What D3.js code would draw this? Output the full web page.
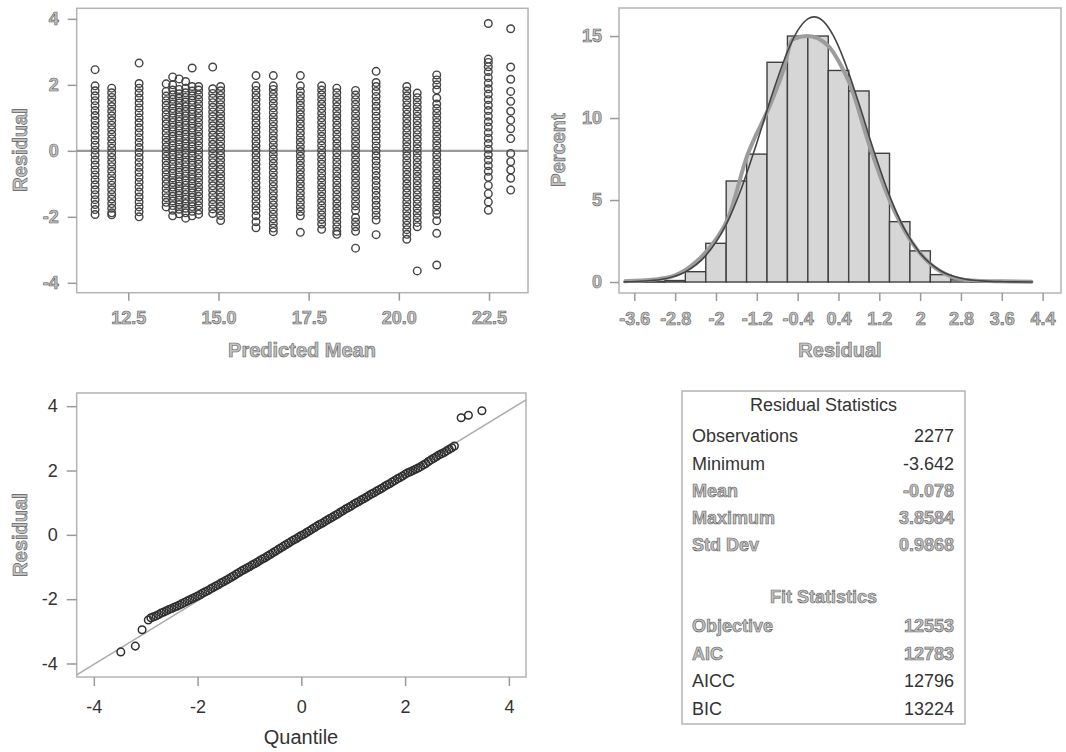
<!DOCTYPE html>
<html>
<head>
<meta charset="utf-8">
<script src="https://cdn.jsdelivr.net/npm/d3@7"></script>
<style>
  body { margin: 0; background: #fff; }
  svg { display: block; font-family: "Liberation Sans", Arial, sans-serif; }
</style>
</head>
<body>
<svg id="chart" width="1066" height="752"></svg>
<script>
// ---- data ----
const scatterMeans = [11.58, 12.04, 12.80, 13.55, 13.73, 13.91, 14.09, 14.27, 14.45, 14.84, 15.06,
  16.04, 16.52, 17.27, 17.86, 18.28, 18.80, 19.37, 20.22, 20.51, 21.05, 22.48, 23.10];

const scatterResiduals = [
  [2.46, 1.97, 1.82, 1.67, 1.52, 1.37, 1.22, 1.07, 0.92, 0.77, 0.62, 0.47, 0.32, 0.17, 0.02, -0.13, -0.28, -0.43, -0.58, -0.73, -0.88, -1.03, -1.18, -1.33, -1.48, -1.63, -1.78, -1.93],
  [1.9, 1.76, 1.62, 1.48, 1.34, 1.2, 1.06, 0.92, 0.78, 0.64, 0.5, 0.36, 0.22, 0.08, -0.06, -0.2, -0.34, -0.48, -0.62, -0.76, -0.9, -1.04, -1.18, -1.32, -1.46, -1.6, -1.74, -1.88, -1.94],
  [2.66, 2.04, 1.9, 1.75, 1.6, 1.45, 1.3, 1.15, 1.0, 0.85, 0.7, 0.55, 0.4, 0.25, 0.1, -0.05, -0.2, -0.35, -0.5, -0.65, -0.8, -0.95, -1.1, -1.25, -1.4, -1.55, -1.7, -1.85, -2.0],
  [2.03, 1.8, 1.66, 1.52, 1.38, 1.24, 1.1, 0.96, 0.82, 0.68, 0.54, 0.4, 0.26, 0.12, -0.02, -0.16, -0.3, -0.44, -0.58, -0.72, -0.86, -1.0, -1.14, -1.28, -1.42, -1.56, -1.7],
  [2.24, 2.0, 1.84, 1.7, 1.56, 1.42, 1.28, 1.14, 1.0, 0.86, 0.72, 0.58, 0.44, 0.3, 0.16, 0.02, -0.12, -0.26, -0.4, -0.54, -0.68, -0.82, -0.96, -1.1, -1.24, -1.38, -1.52, -1.66, -1.8, -1.97],
  [2.18, 1.86, 1.73, 1.59, 1.45, 1.31, 1.17, 1.03, 0.89, 0.75, 0.61, 0.47, 0.33, 0.19, 0.05, -0.09, -0.23, -0.37, -0.51, -0.65, -0.79, -0.93, -1.07, -1.21, -1.35, -1.49, -1.63, -1.77, -1.91],
  [2.1, 1.9, 1.76, 1.62, 1.48, 1.34, 1.2, 1.06, 0.92, 0.78, 0.64, 0.5, 0.36, 0.22, 0.08, -0.06, -0.2, -0.34, -0.48, -0.62, -0.76, -0.9, -1.04, -1.18, -1.32, -1.46, -1.6, -1.74, -1.88, -2.04],
  [2.51, 1.95, 1.81, 1.67, 1.53, 1.39, 1.25, 1.11, 0.97, 0.83, 0.69, 0.55, 0.41, 0.27, 0.13, -0.01, -0.15, -0.29, -0.43, -0.57, -0.71, -0.85, -0.99, -1.13, -1.27, -1.41, -1.55, -1.69, -1.83, -1.97],
  [1.95, 1.84, 1.7, 1.56, 1.42, 1.28, 1.14, 1.0, 0.86, 0.72, 0.58, 0.44, 0.3, 0.16, 0.02, -0.12, -0.26, -0.4, -0.54, -0.68, -0.82, -0.96, -1.1, -1.24, -1.38, -1.52, -1.66, -1.8, -1.92],
  [2.54, 1.88, 1.74, 1.6, 1.46, 1.32, 1.18, 1.04, 0.9, 0.76, 0.62, 0.48, 0.34, 0.2, 0.06, -0.08, -0.22, -0.36, -0.5, -0.64, -0.78, -0.92, -1.06, -1.2, -1.34, -1.48, -1.62, -1.76, -1.9],
  [1.95, 1.82, 1.68, 1.54, 1.4, 1.26, 1.12, 0.98, 0.84, 0.7, 0.56, 0.42, 0.28, 0.14, 0.0, -0.14, -0.28, -0.42, -0.56, -0.7, -0.84, -0.98, -1.12, -1.26, -1.4, -1.54, -1.68, -1.82, -1.96, -2.11],
  [2.28, 1.97, 1.83, 1.69, 1.55, 1.41, 1.27, 1.13, 0.99, 0.85, 0.71, 0.57, 0.43, 0.29, 0.15, 0.01, -0.13, -0.27, -0.41, -0.55, -0.69, -0.83, -0.97, -1.11, -1.25, -1.39, -1.53, -1.67, -1.81, -1.97, -2.15, -2.33],
  [2.28, 1.97, 1.86, 1.72, 1.58, 1.44, 1.3, 1.16, 1.02, 0.88, 0.74, 0.6, 0.46, 0.32, 0.18, 0.04, -0.1, -0.24, -0.38, -0.52, -0.66, -0.8, -0.94, -1.08, -1.22, -1.36, -1.5, -1.64, -1.78, -1.92, -2.06, -2.2, -2.34, -2.45],
  [2.28, 1.97, 1.8, 1.66, 1.52, 1.38, 1.24, 1.1, 0.96, 0.82, 0.68, 0.54, 0.4, 0.26, 0.12, -0.02, -0.16, -0.3, -0.44, -0.58, -0.72, -0.86, -1.0, -1.14, -1.28, -1.42, -1.56, -1.7, -1.84, -1.97, -2.47],
  [1.97, 1.84, 1.7, 1.56, 1.42, 1.28, 1.14, 1.0, 0.86, 0.72, 0.58, 0.44, 0.3, 0.16, 0.02, -0.12, -0.26, -0.4, -0.54, -0.68, -0.82, -0.96, -1.1, -1.24, -1.38, -1.52, -1.66, -1.8, -1.94, -2.08, -2.22, -2.38],
  [1.9, 1.76, 1.62, 1.48, 1.34, 1.2, 1.06, 0.92, 0.78, 0.64, 0.5, 0.36, 0.22, 0.08, -0.06, -0.2, -0.34, -0.48, -0.62, -0.76, -0.9, -1.04, -1.18, -1.32, -1.46, -1.6, -1.74, -1.88, -2.02, -2.16, -2.3, -2.44, -2.53],
  [1.83, 1.69, 1.55, 1.41, 1.27, 1.13, 0.99, 0.85, 0.71, 0.57, 0.43, 0.29, 0.15, 0.01, -0.13, -0.27, -0.41, -0.55, -0.69, -0.83, -0.97, -1.11, -1.25, -1.39, -1.53, -1.67, -1.81, -2.02, -2.16, -2.3, -2.44, -2.95],
  [2.41, 2.07, 1.95, 1.8, 1.65, 1.5, 1.35, 1.2, 1.05, 0.9, 0.75, 0.6, 0.45, 0.3, 0.15, 0.0, -0.15, -0.3, -0.45, -0.6, -0.75, -0.9, -1.05, -1.2, -1.35, -1.5, -1.65, -1.8, -1.95, -2.1, -2.54],
  [1.95, 1.81, 1.67, 1.53, 1.39, 1.25, 1.11, 0.97, 0.83, 0.69, 0.55, 0.41, 0.27, 0.13, -0.01, -0.15, -0.29, -0.43, -0.57, -0.71, -0.85, -0.99, -1.13, -1.27, -1.41, -1.55, -1.69, -1.83, -1.97, -2.11, -2.25, -2.39, -2.53, -2.68],
  [1.75, 1.61, 1.47, 1.33, 1.19, 1.05, 0.91, 0.77, 0.63, 0.49, 0.35, 0.21, 0.07, -0.07, -0.21, -0.35, -0.49, -0.63, -0.77, -0.91, -1.05, -1.19, -1.33, -1.47, -1.61, -1.75, -1.89, -2.03, -2.17, -2.3, -3.64],
  [2.3, 2.15, 2.0, 1.85, 1.6, 1.42, 1.28, 1.14, 1.0, 0.86, 0.72, 0.58, 0.44, 0.3, 0.16, 0.02, -0.12, -0.26, -0.4, -0.54, -0.68, -0.82, -0.96, -1.1, -1.24, -1.38, -1.52, -1.66, -1.8, -1.92, -2.12, -2.5, -3.46],
  [3.86, 2.78, 2.68, 2.55, 2.4, 2.22, 2.05, 1.88, 1.72, 1.55, 1.38, 1.22, 1.05, 0.88, 0.72, 0.55, 0.38, 0.22, 0.05, -0.12, -0.28, -0.45, -0.62, -0.8, -1.05, -1.3, -1.55, -1.8],
  [3.7, 2.54, 2.17, 1.8, 1.5, 1.2, 0.93, 0.67, 0.37, -0.08, -0.33, -0.58, -0.83, -1.19]
];
const scatterXTicks = [12.5, 15.0, 17.5, 20.0, 22.5];
const residualTicks = [-4, -2, 0, 2, 4];

const binStarts = [-3.8, -3.4, -3.0, -2.6, -2.2, -1.8, -1.4, -1.0, -0.6, -0.2, 0.2, 0.6, 1.0, 1.4, 1.8, 2.2, 2.6, 3.0, 3.4, 3.8];
const binPercents = [0.04, 0.04, 0.09, 0.63, 2.36, 6.16, 7.8, 13.4, 15.0, 15.0, 12.9, 11.65, 7.85, 3.68, 1.9, 0.45, 0.13, 0.04, 0.04, 0.04];
const binWidth = 0.4;
const normalX = [-3.8, -3.4, -3.0, -2.6, -2.2, -1.8, -1.5, -1.2, -0.9, -0.6, -0.4, -0.2, -0.08, 0.1, 0.3, 0.5, 0.8, 1.1, 1.4, 1.7, 2.0, 2.4, 2.8, 3.2, 3.6, 4.2];
const normalPct = [0.01, 0.06, 0.2, 0.62, 1.61, 3.51, 5.72, 8.48, 11.43, 14.04, 15.33, 16.05, 16.17, 15.91, 15.02, 13.61, 10.88, 7.93, 5.27, 3.19, 1.76, 0.69, 0.23, 0.07, 0.02, 0.0];
const kernelX = [-3.8, -3.2, -2.8, -2.4, -2.0, -1.76, -1.4, -0.94, -0.68, -0.5, -0.2, 0.2, 0.45, 0.62, 1.0, 1.4, 1.8, 2.2, 2.6, 3.0, 3.6, 4.2];
const kernelPct = [0.05, 0.15, 0.4, 1.2, 2.6, 3.9, 7.6, 10.8, 12.9, 14.8, 15.0, 14.4, 13.2, 12.1, 8.4, 5.0, 2.6, 1.1, 0.35, 0.1, 0.04, 0.02];
const histXTicks = [-3.6, -2.8, -2, -1.2, -0.4, 0.4, 1.2, 2, 2.8, 3.6, 4.4];
const percentTicks = [0, 5, 10, 15];

// [normal quantile, residual]
const qqPoints = [
  [-3.48, -3.64], [-3.2, -3.46], [-3.07, -2.95],
  [-2.95, -2.65], [-2.9, -2.58], [-2.85, -2.55], [-2.8, -2.52], [-2.75, -2.48], [-2.7, -2.43], [-2.65, -2.4],
  [-2.6, -2.36], [-2.55, -2.32], [-2.5, -2.29], [-2.45, -2.25], [-2.4, -2.22], [-2.35, -2.18], [-2.3, -2.14],
  [-2.25, -2.1], [-2.2, -2.06], [-2.15, -2.02], [-2.1, -1.98], [-2.05, -1.94], [-2.0, -1.9], [-1.95, -1.86],
  [-1.9, -1.81], [-1.85, -1.77], [-1.8, -1.73], [-1.75, -1.68], [-1.7, -1.64], [-1.65, -1.59], [-1.6, -1.55],
  [-1.55, -1.5], [-1.5, -1.46], [-1.45, -1.41], [-1.4, -1.37], [-1.35, -1.32], [-1.3, -1.27], [-1.25, -1.22],
  [-1.2, -1.17], [-1.15, -1.12], [-1.1, -1.08], [-1.05, -1.03], [-1.0, -0.99], [-0.95, -0.94], [-0.9, -0.9],
  [-0.85, -0.85], [-0.8, -0.8], [-0.75, -0.75], [-0.7, -0.71], [-0.65, -0.66], [-0.6, -0.61], [-0.55, -0.56],
  [-0.5, -0.51], [-0.45, -0.46], [-0.4, -0.41], [-0.35, -0.36], [-0.3, -0.31], [-0.25, -0.26], [-0.2, -0.21],
  [-0.15, -0.16], [-0.1, -0.12], [-0.05, -0.07], [0.0, -0.02], [0.05, 0.02], [0.1, 0.07], [0.15, 0.12],
  [0.2, 0.17], [0.25, 0.22], [0.3, 0.27], [0.35, 0.32], [0.4, 0.36], [0.45, 0.41], [0.5, 0.46], [0.55, 0.51],
  [0.6, 0.55], [0.65, 0.6], [0.7, 0.65], [0.75, 0.7], [0.8, 0.75], [0.85, 0.8], [0.9, 0.84], [0.95, 0.89],
  [1.0, 0.94], [1.05, 0.99], [1.1, 1.03], [1.15, 1.08], [1.2, 1.12], [1.25, 1.17], [1.3, 1.22], [1.35, 1.27],
  [1.4, 1.31], [1.45, 1.36], [1.5, 1.4], [1.55, 1.45], [1.6, 1.5], [1.65, 1.55], [1.7, 1.59], [1.75, 1.64],
  [1.8, 1.69], [1.85, 1.74], [1.9, 1.78], [1.95, 1.83], [2.0, 1.88], [2.05, 1.93], [2.1, 1.96], [2.15, 2.0],
  [2.2, 2.04], [2.25, 2.08], [2.3, 2.12], [2.35, 2.17], [2.4, 2.22], [2.45, 2.28], [2.5, 2.33], [2.55, 2.38],
  [2.6, 2.43], [2.65, 2.48], [2.7, 2.52], [2.75, 2.56], [2.8, 2.61], [2.85, 2.66], [2.9, 2.71], [2.95, 2.76],
  [3.08, 3.64], [3.22, 3.72], [3.48, 3.86]
];
const qqXTicks = [-4, -2, 0, 2, 4];

const statLabels = ["Observations", "Minimum", "Mean", "Maximum", "Std Dev"];
const statValues = ["2277", "-3.642", "-0.078", "3.8584", "0.9868"];
const fitLabels = ["Objective", "AIC", "AICC", "BIC"];
const fitValues = ["12553", "12783", "12796", "13224"];

// ---- drawing ----
const svg = d3.select("#chart");
const FRAME = "#b4b4b4";
const TICK = "#9a9a9a";

// grey "speckled" text look of the original
function grainy(sel) {
  sel.attr("fill", "#c2c2c2").attr("stroke", "#5c5c5c").attr("stroke-width", 0.6).attr("font-weight", "bold");
}
function solid(sel) {
  sel.attr("fill", "#333").attr("stroke", "none").attr("font-weight", "normal");
}

function styleAxis(g, size, look) {
  g.select(".domain").remove();
  g.selectAll(".tick line").attr("stroke", TICK).attr("stroke-width", 1.5);
  g.selectAll(".tick text").attr("font-size", size).call(look);
}

function frame(box) {
  svg.append("rect")
    .attr("x", box.left).attr("y", box.top)
    .attr("width", box.right - box.left).attr("height", box.bottom - box.top)
    .attr("fill", "none").attr("stroke", FRAME).attr("stroke-width", 1.5);
}

function axisTitle(text, x, y, rotate, look, size) {
  const t = svg.append("text")
    .attr("x", x).attr("y", y)
    .attr("text-anchor", "middle").attr("dominant-baseline", "central")
    .attr("font-size", size)
    .text(text)
    .call(look);
  if (rotate) t.attr("transform", `rotate(-90,${x},${y})`);
}

// Panel 1: residual vs predicted mean
const sBox = {left: 76.7, right: 528, top: 8.3, bottom: 292.7};
const sx = d3.scaleLinear().domain([11.07, 23.58]).range([sBox.left, sBox.right]);
const sy = d3.scaleLinear().domain([-4.3, 4.32]).range([sBox.bottom, sBox.top]);

frame(sBox);
svg.append("line")
  .attr("x1", sBox.left).attr("x2", sBox.right)
  .attr("y1", sy(0)).attr("y2", sy(0))
  .attr("stroke", "#9a9a9a").attr("stroke-width", 2.2);

const scatterPoints = scatterMeans.flatMap((m, i) => scatterResiduals[i].map(r => ({m, r})));
svg.append("g").selectAll("circle")
  .data(scatterPoints)
  .enter().append("circle")
  .attr("cx", d => sx(d.m))
  .attr("cy", d => sy(d.r))
  .attr("r", 3.8)
  .attr("fill", "none")
  .attr("stroke", "#444")
  .attr("stroke-width", 1.4);

svg.append("g")
  .attr("transform", `translate(0,${sBox.bottom})`)
  .call(d3.axisBottom(sx).tickValues(scatterXTicks).tickFormat(d3.format(".1f")).tickSize(8).tickPadding(11))
  .call(g => styleAxis(g, 18, grainy));
svg.append("g")
  .attr("transform", `translate(${sBox.left},0)`)
  .call(d3.axisLeft(sy).tickValues(residualTicks).tickFormat(d => String(d)).tickSize(9).tickPadding(9))
  .call(g => styleAxis(g, 18, grainy));
axisTitle("Residual", 20, 150, true, grainy, 20);
axisTitle("Predicted Mean", 302, 350, false, grainy, 20);

// Panel 2: histogram of residuals
const hBox = {left: 619, right: 1061, top: 8, bottom: 293};
const hx = d3.scaleLinear().domain([-3.9, 4.76]).range([hBox.left, hBox.right]);
const hy = d3.scaleLinear().domain([-0.67, 16.71]).range([hBox.bottom, hBox.top]);

frame(hBox);
svg.append("g").selectAll("rect")
  .data(binStarts.map((b, i) => ({b, p: binPercents[i]})))
  .enter().append("rect")
  .attr("x", d => hx(d.b))
  .attr("width", d => hx(d.b + binWidth) - hx(d.b))
  .attr("y", d => hy(d.p))
  .attr("height", d => Math.max(hy(0) - hy(d.p), 0.8))
  .attr("fill", "#d6d6d6")
  .attr("stroke", "#404040")
  .attr("stroke-width", 1.4);

const curveLine = d3.line().curve(d3.curveMonotoneX).x(d => hx(d[0])).y(d => hy(d[1]));
svg.append("path")
  .datum(kernelX.map((x, i) => [x, kernelPct[i]]))
  .attr("d", curveLine)
  .attr("fill", "none").attr("stroke", "#9c9c9c").attr("stroke-width", 4);
svg.append("path")
  .datum(normalX.map((x, i) => [x, normalPct[i]]))
  .attr("d", curveLine)
  .attr("fill", "none").attr("stroke", "#444").attr("stroke-width", 1.6);

svg.append("g")
  .attr("transform", `translate(0,${hBox.bottom})`)
  .call(d3.axisBottom(hx).tickValues(histXTicks).tickFormat(d => String(d)).tickSize(8).tickPadding(11))
  .call(g => styleAxis(g, 18, grainy));
svg.append("g")
  .attr("transform", `translate(${hBox.left},0)`)
  .call(d3.axisLeft(hy).tickValues(percentTicks).tickSize(9).tickPadding(8))
  .call(g => styleAxis(g, 18, grainy));
axisTitle("Percent", 558, 150, true, grainy, 20);
axisTitle("Residual", 840, 350, false, grainy, 20);

// Panel 3: Q-Q plot
const qBox = {left: 76.7, right: 526, top: 393, bottom: 677};
const qx = d3.scaleLinear().domain([-4.33, 4.33]).range([qBox.left, qBox.right]);
const qy = d3.scaleLinear().domain([-4.42, 4.41]).range([qBox.bottom, qBox.top]);

frame(qBox);
const mean = +statValues[2];
const sd = +statValues[4];
const qd = qx.domain();
svg.append("line")
  .attr("x1", qx(qd[0])).attr("y1", qy(mean + sd * qd[0]))
  .attr("x2", qx(qd[1])).attr("y2", qy(mean + sd * qd[1]))
  .attr("stroke", "#aaa").attr("stroke-width", 1.5);

svg.append("g").selectAll("circle")
  .data(qqPoints)
  .enter().append("circle")
  .attr("cx", d => qx(d[0]))
  .attr("cy", d => qy(d[1]))
  .attr("r", 3.8)
  .attr("fill", "none")
  .attr("stroke", "#2e2e2e")
  .attr("stroke-width", 1.5);

svg.append("g")
  .attr("transform", `translate(0,${qBox.bottom})`)
  .call(d3.axisBottom(qx).tickValues(qqXTicks).tickFormat(d => String(d)).tickSize(9).tickPadding(14))
  .call(g => styleAxis(g, 18, solid));
svg.append("g")
  .attr("transform", `translate(${qBox.left},0)`)
  .call(d3.axisLeft(qy).tickValues(residualTicks).tickFormat(d => String(d)).tickSize(10).tickPadding(9))
  .call(g => styleAxis(g, 18, solid));
axisTitle("Residual", 20, 535, true, grainy, 20);
axisTitle("Quantile", 301, 737, false, solid, 20);

// Panel 4: statistics table
const tBox = {x: 682, y: 391, w: 283, h: 333};
svg.append("rect")
  .attr("x", tBox.x).attr("y", tBox.y).attr("width", tBox.w).attr("height", tBox.h)
  .attr("fill", "none").attr("stroke", FRAME).attr("stroke-width", 1.5);

const tg = svg.append("g").attr("font-size", 18);
const labelX = tBox.x + 10;
const valueX = tBox.x + tBox.w - 11;
tg.append("text").attr("x", tBox.x + tBox.w / 2).attr("y", 405)
  .attr("text-anchor", "middle").attr("dominant-baseline", "central")
  .text("Residual Statistics").call(solid);

const statRowY = [436, 464, 491, 518, 545];
const statGrainy = [false, false, true, true, true];
statLabels.forEach((lab, i) => {
  const look = statGrainy[i] ? grainy : solid;
  tg.append("text").attr("x", labelX).attr("y", statRowY[i]).attr("dominant-baseline", "central").text(lab).call(look);
  tg.append("text").attr("x", valueX).attr("y", statRowY[i]).attr("text-anchor", "end").attr("dominant-baseline", "central").text(statValues[i]).call(look);
});

tg.append("text").attr("x", tBox.x + tBox.w / 2).attr("y", 597)
  .attr("text-anchor", "middle").attr("dominant-baseline", "central")
  .text("Fit Statistics").call(grainy);

const fitRowY = [626, 654, 681, 709];
const fitGrainy = [true, true, false, false];
fitLabels.forEach((lab, i) => {
  const look = fitGrainy[i] ? grainy : solid;
  tg.append("text").attr("x", labelX).attr("y", fitRowY[i]).attr("dominant-baseline", "central").text(lab).call(look);
  tg.append("text").attr("x", valueX).attr("y", fitRowY[i]).attr("text-anchor", "end").attr("dominant-baseline", "central").text(fitValues[i]).call(look);
});
</script>
</body>
</html>
